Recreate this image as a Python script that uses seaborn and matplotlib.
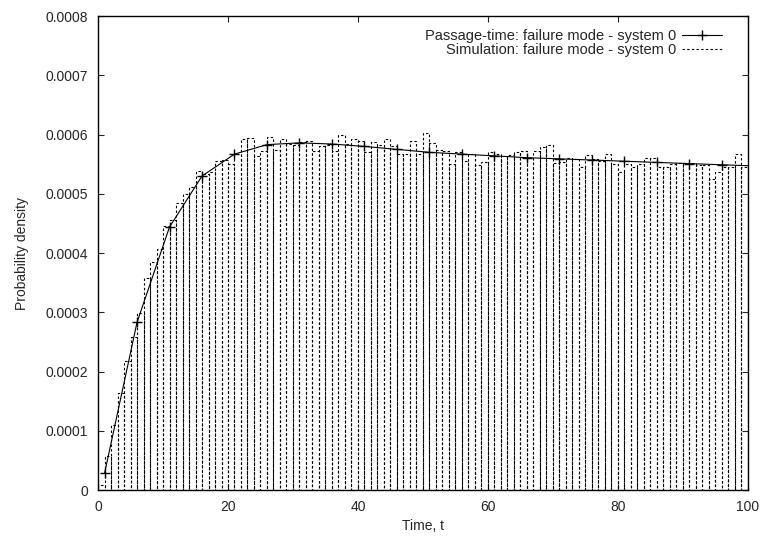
import numpy as np
import pandas as pd
import matplotlib
matplotlib.use("Agg")
import matplotlib.pyplot as plt
from matplotlib.lines import Line2D
from matplotlib.ticker import FuncFormatter, MultipleLocator
import seaborn as sns

# Simulation histogram: one bin per time unit, [t, t+1)
sim_edges = list(range(0, 101))
sim_density = [
    0.0000084, 0.000057, 0.000109, 0.000163, 0.000218, 0.000258, 0.000298, 0.000358, 0.000385, 0.000407,
    0.000446, 0.000456, 0.000485, 0.000500, 0.000511, 0.000539, 0.000534, 0.000537, 0.000556, 0.000557,
    0.000550, 0.000568, 0.000593, 0.000595, 0.000563, 0.000572, 0.000596, 0.000574, 0.000593, 0.000584,
    0.000583, 0.000587, 0.000589, 0.000573, 0.000580, 0.000583, 0.000573, 0.000600, 0.000584, 0.000593,
    0.000589, 0.000571, 0.000587, 0.000583, 0.000592, 0.000580, 0.000568, 0.000568, 0.000589, 0.000568,
    0.000602, 0.000586, 0.000574, 0.000573, 0.000551, 0.000571, 0.000556, 0.000567, 0.000548, 0.000554,
    0.000571, 0.000568, 0.000564, 0.000565, 0.000570, 0.000573, 0.000561, 0.000573, 0.000579, 0.000583,
    0.000552, 0.000554, 0.000560, 0.000558, 0.000545, 0.000565, 0.000558, 0.000556, 0.000568, 0.000551,
    0.000537, 0.000551, 0.000545, 0.000551, 0.000560, 0.000561, 0.000545, 0.000545, 0.000550, 0.000552,
    0.000552, 0.000552, 0.000548, 0.000548, 0.000525, 0.000537, 0.000545, 0.000546, 0.000568, 0.000545,
]

# Passage-time analytic curve (sampled every 5 time units)
pt_time = [1, 6, 11, 16, 21, 26, 31, 36, 41, 46, 51, 56, 61, 66, 71, 76, 81, 86, 91, 96, 101]
pt_density = [
    0.000028, 0.000283, 0.000444, 0.000530, 0.000567, 0.000583, 0.000586, 0.000584, 0.000580, 0.000575,
    0.000570, 0.000567, 0.000564, 0.000561, 0.000559, 0.000557, 0.000555, 0.000553, 0.000551, 0.000549,
    0.000547,
]

sim = pd.DataFrame({"t": np.array(sim_edges[:-1]) + 0.5, "density": sim_density})
pt = pd.DataFrame({"t": pt_time, "density": pt_density})

sns.set_style("ticks")
plt.rcParams["font.family"] = ["Liberation Sans", "DejaVu Sans"]
plt.rcParams["font.size"] = 10

fig = plt.figure(figsize=(7.6, 5.36), dpi=100)
ax = fig.add_axes([0.129, 0.0858, 0.855, 0.8842])

dash = (0, (2.2, 2.0))

sns.histplot(data=sim, x="t", weights="density", bins=sim_edges, element="bars",
             fill=False, color="black", linewidth=0.8, linestyle=dash, ax=ax)

sns.lineplot(data=pt, x="t", y="density", color="black", linewidth=0.8,
             marker="+", markersize=7, markeredgewidth=1.0, markeredgecolor="black", ax=ax)

ax.set_xlim(0, 100)
ax.set_ylim(0, 0.0008)
ax.xaxis.set_major_locator(MultipleLocator(20))
ax.yaxis.set_major_locator(MultipleLocator(0.0001))
ax.yaxis.set_major_formatter(FuncFormatter(lambda v, p: "0" if abs(v) < 1e-12 else f"{v:.4f}"))
ax.tick_params(direction="in", length=4.5, width=0.8, top=True, right=True, labelsize=10, pad=7)
for s in ax.spines.values():
    s.set_linewidth(1.0)
    s.set_color("black")

ax.set_xlabel("Time, t", fontsize=10, labelpad=4)
ax.set_ylabel("Probability density", fontsize=10, labelpad=12)

handles = [
    Line2D([], [], color="black", linewidth=0.8, marker="+", markersize=7, markeredgewidth=1.0),
    Line2D([], [], color="black", linewidth=0.8, linestyle=dash),
]
labels = ["Passage-time: failure mode - system 0", "Simulation: failure mode - system 0"]
ax.legend(handles, labels, loc="upper right", frameon=False, markerfirst=False,
          handlelength=2.75, handletextpad=0.4, labelspacing=0.0, borderaxespad=0.5,
          bbox_to_anchor=(0.98, 1.0), fontsize=10.5)

fig.savefig("out.png", dpi=100)
